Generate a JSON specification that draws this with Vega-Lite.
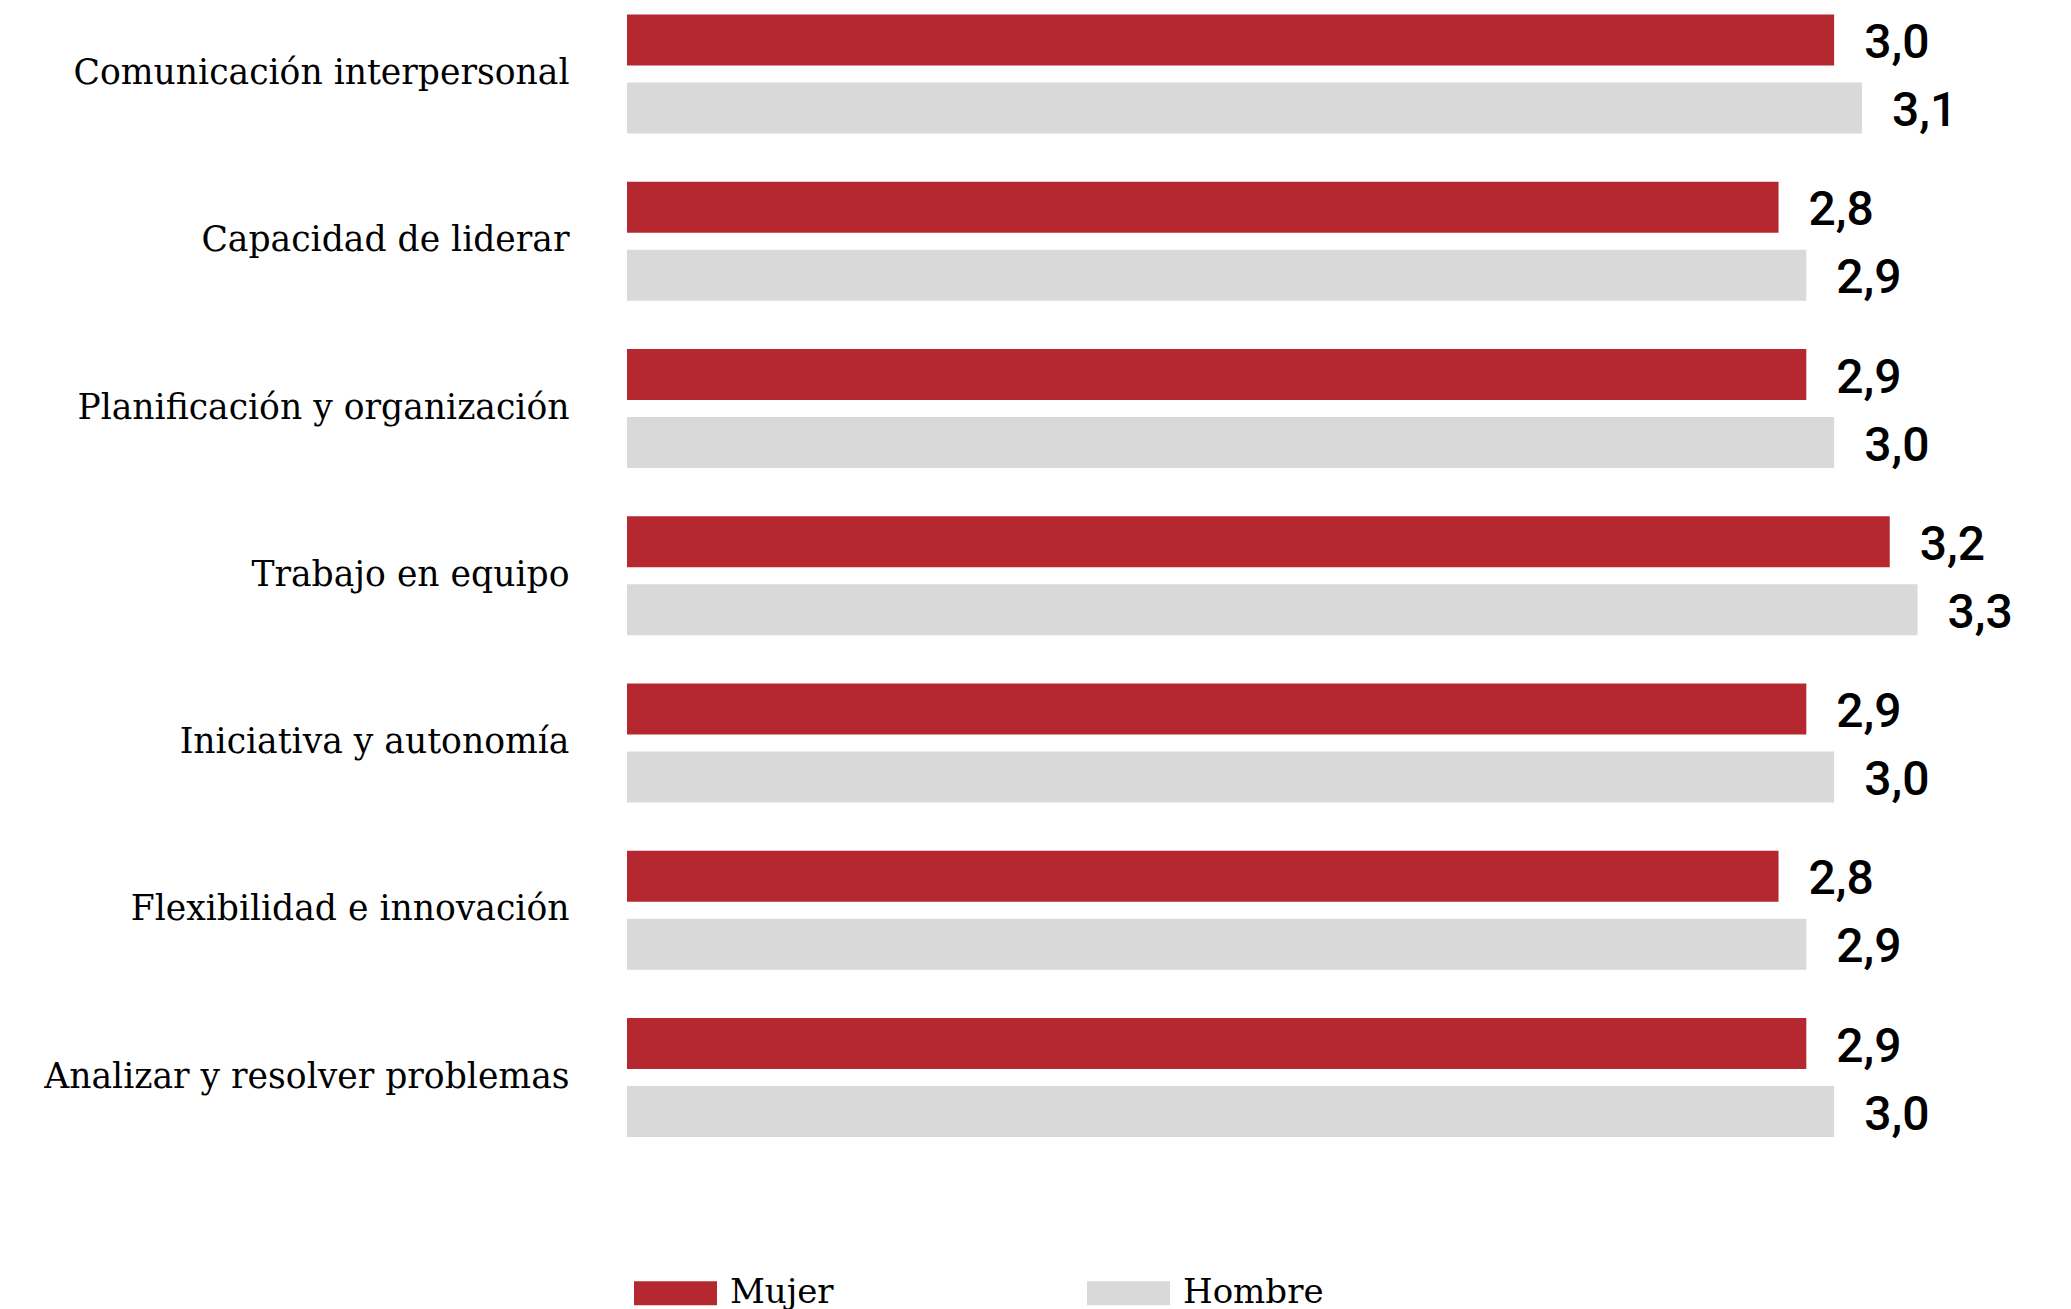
{
  "$schema": "https://vega.github.io/schema/vega-lite/v6.json",
  "autosize": {"type": "none"},
  "width": 1444,
  "height": 1122.6,
  "padding": {"left": 627, "top": 14.5, "right": 0, "bottom": 171.9},
  "background": "white",
  "config": {
    "view": {"stroke": null},
    "locale": {"number": {"decimal": ",", "thousands": ".", "grouping": [3], "currency": ["", " €"]}}
  },
  "data": {
    "values": [
      {"competencia": "Comunicación interpersonal", "sexo": "Mujer", "valor": 3.0},
      {"competencia": "Comunicación interpersonal", "sexo": "Hombre", "valor": 3.1},
      {"competencia": "Capacidad de liderar", "sexo": "Mujer", "valor": 2.8},
      {"competencia": "Capacidad de liderar", "sexo": "Hombre", "valor": 2.9},
      {"competencia": "Planificación y organización", "sexo": "Mujer", "valor": 2.9},
      {"competencia": "Planificación y organización", "sexo": "Hombre", "valor": 3.0},
      {"competencia": "Trabajo en equipo", "sexo": "Mujer", "valor": 3.2},
      {"competencia": "Trabajo en equipo", "sexo": "Hombre", "valor": 3.3},
      {"competencia": "Iniciativa y autonomía", "sexo": "Mujer", "valor": 2.9},
      {"competencia": "Iniciativa y autonomía", "sexo": "Hombre", "valor": 3.0},
      {"competencia": "Flexibilidad e innovación", "sexo": "Mujer", "valor": 2.8},
      {"competencia": "Flexibilidad e innovación", "sexo": "Hombre", "valor": 2.9},
      {"competencia": "Analizar y resolver problemas", "sexo": "Mujer", "valor": 2.9},
      {"competencia": "Analizar y resolver problemas", "sexo": "Hombre", "valor": 3.0}
    ]
  },
  "encoding": {
    "y": {
      "field": "competencia",
      "type": "nominal",
      "sort": null,
      "scale": {"paddingInner": 0.288, "paddingOuter": 0},
      "axis": {
        "title": null,
        "domain": false,
        "ticks": false,
        "labelPadding": 58,
        "labelFont": "DejaVu Serif",
        "labelFontSize": 34.6,
        "labelColor": "#000000",
        "labelLimit": 700
      }
    },
    "yOffset": {
      "field": "sexo",
      "type": "nominal",
      "sort": ["Mujer", "Hombre"],
      "scale": {"paddingInner": 0.25, "paddingOuter": 0}
    }
  },
  "layer": [
    {
      "mark": {"type": "bar"},
      "encoding": {
        "x": {
          "field": "valor",
          "type": "quantitative",
          "scale": {"domain": [-1.342, 3.852], "nice": false, "zero": false},
          "axis": null
        },
        "x2": {"datum": -1.342},
        "color": {
          "field": "sexo",
          "type": "nominal",
          "sort": ["Mujer", "Hombre"],
          "scale": {"domain": ["Mujer", "Hombre"], "range": ["#B5282F", "#D9D9D9"]},
          "legend": {
            "title": null,
            "orient": "none",
            "legendX": 7,
            "legendY": 1237,
            "direction": "horizontal",
            "columns": 2,
            "columnPadding": 253,
            "symbolType": "M-1,-0.29L1,-0.29L1,0.29L-1,0.29Z",
            "symbolSize": 6889,
            "symbolStrokeWidth": 0,
            "labelFont": "DejaVu Serif",
            "labelFontSize": 34,
            "labelColor": "#000000",
            "labelOffset": 13,
            "labelBaseline": "middle"
          }
        }
      }
    },
    {
      "mark": {"type": "text", "align": "left", "baseline": "middle", "dx": 30, "dy": 4, "font": "Roboto", "fontSize": 48, "fontWeight": 500, "color": "#000000"},
      "encoding": {
        "x": {"field": "valor", "type": "quantitative"},
        "text": {"field": "valor", "type": "quantitative", "format": ".1f"}
      }
    }
  ]
}
